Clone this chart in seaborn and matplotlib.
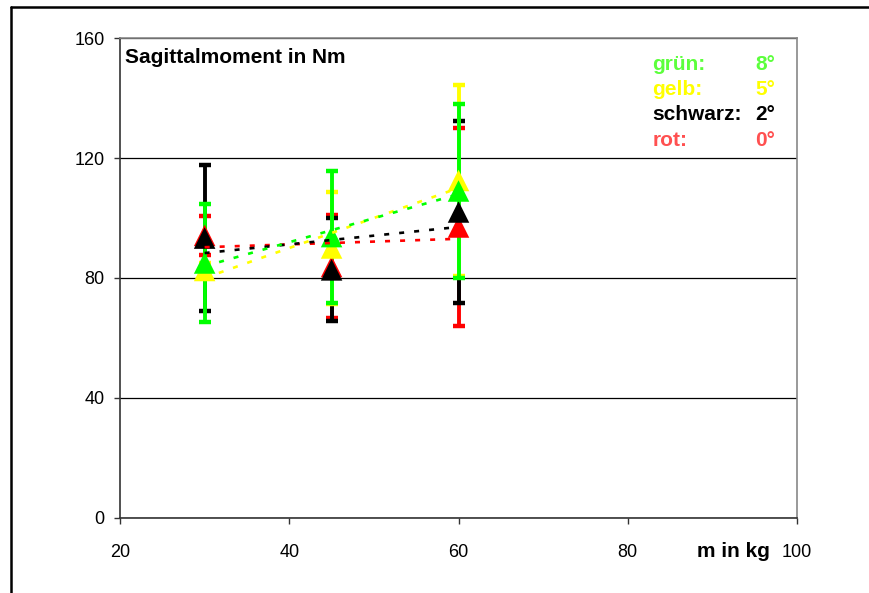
import numpy as np
import pandas as pd
import matplotlib
matplotlib.use("Agg")
import matplotlib.pyplot as plt
import seaborn as sns
from matplotlib.lines import Line2D

# Gewicht in kg
masse = [30, 45, 60]

# Mittelwerte und Streuung je Neigung
rot_mean = [94.2, 83.8, 97.0]
rot_err = [6.4, 17.3, 33.0]
schwarz_mean = [93.3, 82.7, 102.0]
schwarz_err = [24.4, 17.2, 30.4]
gelb_mean = [82.5, 90.0, 112.5]
gelb_err = [2.5, 18.8, 32.0]
gruen_mean = [85.0, 93.8, 109.0]
gruen_err = [19.7, 22.0, 28.9]

serien = ["rot", "schwarz", "gelb", "grün"]
winkel = ["0°", "2°", "5°", "8°"]
farben = {"rot": "#ff0000", "schwarz": "#000000", "gelb": "#ffff00", "grün": "#00ff00"}
text_farben = {"rot": "#ff5050", "schwarz": "#000000", "gelb": "#ffff00", "grün": "#5cff3c"}

mittel = {"rot": rot_mean, "schwarz": schwarz_mean, "gelb": gelb_mean, "grün": gruen_mean}
fehler = {"rot": rot_err, "schwarz": schwarz_err, "gelb": gelb_err, "grün": gruen_err}

# long format table (in drawing order)
df = pd.concat(
    [pd.DataFrame({"m": masse, "M": mittel[s], "err": fehler[s], "serie": s}) for s in serien],
    ignore_index=True,
)

sns.set_theme(style="white")
plt.rcParams["font.family"] = ["Liberation Sans", "DejaVu Sans"]
plt.rcParams["text.color"] = "black"
plt.rcParams["axes.labelcolor"] = "black"

fig = plt.figure(figsize=(8.69, 5.93), dpi=100)
ax = fig.add_axes([0.1381, 0.1265, 0.7791, 0.8094])

# error bars behind the markers
for s in serien:
    d = df[df["serie"] == s]
    ax.errorbar(d["m"], d["M"], yerr=d["err"], fmt="none", ecolor=farben[s],
                elinewidth=2.8, capsize=4, capthick=3.2, zorder=2)

# triangles
sns.scatterplot(data=df, x="m", y="M", hue="serie", hue_order=serien,
                palette=farben, marker="^", s=240, linewidth=0,
                legend=False, ax=ax, zorder=3)

# linear trend lines
for s in serien:
    d = df[df["serie"] == s]
    sns.regplot(x=d["m"], y=d["M"], scatter=False, ci=None, ax=ax,
                color=farben[s], truncate=True,
                line_kws={"ls": (0, (1.9, 3.8)), "lw": 1.9, "zorder": 4})

ax.set_xlim(20, 100)
ax.set_ylim(0, 160)
ax.set_xticks([20, 40, 60, 80, 100])
ax.set_yticks([0, 40, 80, 120, 160])
ax.set_ylabel("")
ax.set_xlabel("m in kg", fontsize=15, fontweight="bold", loc="right", color="black")
ax.xaxis.set_label_coords(0.96, -0.05)

ax.yaxis.grid(True, color="black", lw=0.9)
ax.set_axisbelow(True)

ax.tick_params(axis="both", direction="out", length=4, width=1, color="#333333",
               labelsize=13, labelcolor="black", left=True, bottom=True)
ax.tick_params(axis="y", pad=7)
ax.tick_params(axis="x", pad=15)

for side in ["left", "bottom"]:
    ax.spines[side].set_color("#333333")
    ax.spines[side].set_linewidth(1.2)
for side in ["top", "right"]:
    ax.spines[side].set_color("#888888")
    ax.spines[side].set_linewidth(1.2)

ax.text(0.007, 0.96, "Sagittalmoment in Nm", transform=ax.transAxes, color="black",
        fontsize=15, fontweight="bold", va="center", ha="left")

# legend written as text
legende_y = [0.944, 0.892, 0.840, 0.7875]
for s, w, y in zip(["grün", "gelb", "schwarz", "rot"], ["8°", "5°", "2°", "0°"], legende_y):
    ax.text(0.786, y, s + ":", transform=ax.transAxes, color=text_farben[s],
            fontsize=15, fontweight="bold", va="center", ha="left")
    ax.text(0.938, y, w, transform=ax.transAxes, color=text_farben[s],
            fontsize=15, fontweight="bold", va="center", ha="left")

# outer frame (top and left)
fig.add_artist(Line2D([0.0127, 1.0], [0.988, 0.988], color="black", lw=1.8,
                      transform=fig.transFigure))
fig.add_artist(Line2D([0.0127, 0.0127], [0.0, 0.988], color="black", lw=1.8,
                      transform=fig.transFigure))

fig.savefig("out.png", dpi=100)
